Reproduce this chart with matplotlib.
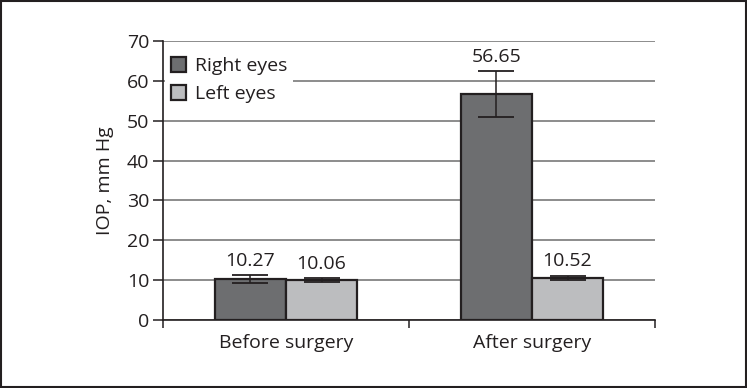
import matplotlib
matplotlib.use('Agg')
import matplotlib.pyplot as plt
import numpy as np
from matplotlib.patches import Rectangle

plt.rcParams['font.family'] = ['Open Sans', 'DejaVu Sans']
plt.rcParams['font.size'] = 14
plt.rcParams['text.color'] = '#231f20'

categories = ['Before surgery', 'After surgery']
series = ['Right eyes', 'Left eyes']
right_eyes = [10.27, 56.65]
left_eyes = [10.06, 10.52]
right_err = [1.0, 5.7]
left_err = [0.5, 0.6]
colors = ['#6d6e70', '#bcbdbf']
ink = '#231f20'

fig = plt.figure(figsize=(7.47, 3.88), dpi=100)
ax = fig.add_axes([0.2182, 0.1753, 0.8768 - 0.2182, 0.8943 - 0.1753])

x = np.arange(len(categories))
w = 0.289
for i, (vals, errs) in enumerate([(right_eyes, right_err), (left_eyes, left_err)]):
    pos = x + (i - 0.5) * w
    ax.bar(pos, vals, w, color=colors[i], edgecolor=ink, linewidth=1.6,
           label=series[i], zorder=3)
    ax.errorbar(pos, vals, yerr=errs, fmt='none', ecolor=ink, elinewidth=1.1,
                capsize=13, capthick=1.3, zorder=4)
    for p, v, e in zip(pos, vals, errs):
        ax.text(p, v + e + 1.3, f'{v:.2f}', ha='center', va='bottom', fontsize=14)

ax.set_xlim(-0.5, 1.5)
ax.set_ylim(0, 70)
ax.set_yticks(np.arange(0, 71, 10))
ax.yaxis.grid(True, color='#8c8c8c', linewidth=1.4, zorder=0)
ax.set_axisbelow(True)

ax.set_xticks(x)
ax.set_xticklabels(categories)
ax.set_xticks([-0.5, 0.5, 1.5], minor=True)
ax.tick_params(axis='x', which='major', length=0, pad=10)
ax.tick_params(axis='x', which='minor', length=6, width=1.1, color=ink, direction='out')
ax.tick_params(axis='y', length=7, width=1.1, color=ink, pad=3, direction='out')
ax.tick_params(labelcolor=ink, labelsize=14)

for s in ['top', 'right']:
    ax.spines[s].set_visible(False)
for s in ['left', 'bottom']:
    ax.spines[s].set_color(ink)
    ax.spines[s].set_linewidth(1.2)
    ax.spines[s].set_zorder(6)

ax.set_ylabel('IOP, mm Hg', fontsize=14, color=ink, labelpad=9)

leg = ax.legend(loc='upper left', bbox_to_anchor=(0.004, 0.964), frameon=True,
                fancybox=False, handlelength=0.8, handleheight=0.8,
                handletextpad=0.45, labelspacing=0.5, borderpad=0.3,
                borderaxespad=0.0, fontsize=14)
leg.get_frame().set_facecolor('white')
leg.get_frame().set_edgecolor('none')
leg.get_frame().set_alpha(1)
leg.set_zorder(5)

fig.patches.append(Rectangle((0.002, 0.002), 0.996, 0.995, transform=fig.transFigure,
                             fill=False, edgecolor=ink, linewidth=1.5))

fig.savefig('out.png', dpi=100)
